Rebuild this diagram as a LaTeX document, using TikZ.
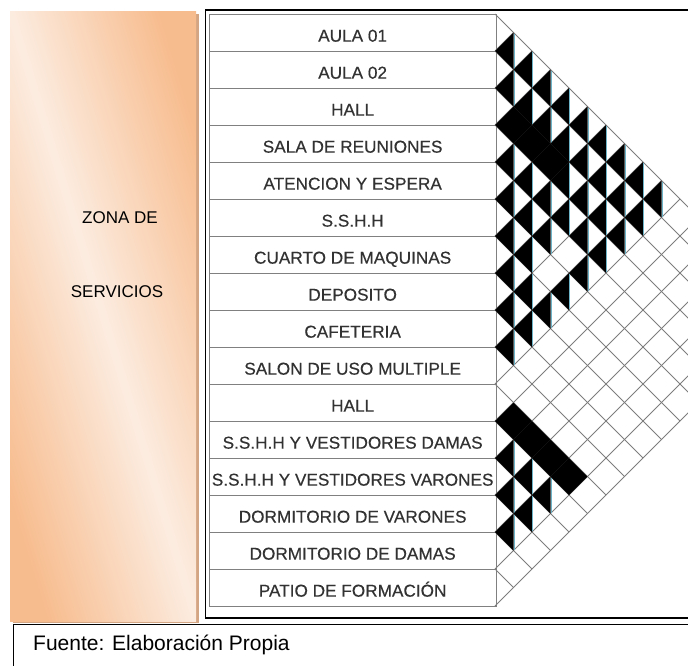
\documentclass[tikz,border=0pt]{standalone}
\usepackage{fontspec}
\setmainfont{Liberation Sans}
\newfontfamily\rowfont[FakeBold=0.4]{Liberation Sans}
\usetikzlibrary{positioning,calc}

\definecolor{zonaorange}{RGB}{247,188,142}
\definecolor{zonalight}{RGB}{252,236,224}
\definecolor{zonashadow}{RGB}{212,165,130}
\definecolor{rowgray}{RGB}{128,128,128}
\definecolor{gridgray}{RGB}{125,125,125}
\definecolor{labelgray}{RGB}{50,50,50}
\definecolor{edgecyan}{RGB}{110,180,200}

\begin{document}
\begin{tikzpicture}[x=1pt,y=-1pt,
    every node/.style={font=\fontsize{16.5}{19}\selectfont,inner sep=0pt},
    rowbox/.style={draw=rowgray,line width=1.3pt,minimum width=287pt,minimum height=37pt,anchor=north west,text=labelgray,
      font=\rowfont\fontsize{17.2}{20}\selectfont,text height=17pt,text depth=0pt},
    zonebox/.style={minimum width=186pt,minimum height=610pt,anchor=north west,top color=zonaorange,bottom color=zonaorange,middle color=zonalight,shading angle=-73},
    zonetext/.style={font=\fontsize{17}{20}\selectfont},
    gridline/.style={draw=gridgray,line width=0.9pt},
    halfcell/.style={fill=black},
    fullcell/.style={fill=black},
    celledge/.style={draw=edgecyan,line width=0.7pt}
  ]
  \useasboundingbox (0,0) rectangle (688,665);
  \clip (0,0) rectangle (688,665);

  % zona box with shadow
  \fill[zonashadow] (13,14) rectangle (199,623);
  \node[zonebox] (zona) at (10,11) {};
  \node[zonetext] (zonaA) at (120,218) {ZONA DE};
  \node[zonetext] (zonaB) at (117,292) {SERVICIOS};

  % outer frame of the table
  \draw[black,line width=1.4pt] (205.5,10) rectangle (720,618);

  % spaces
  \foreach \lbl [count=\k from 0] in {AULA 01,AULA 02,HALL,SALA DE REUNIONES,ATENCION Y ESPERA,S.S.H.H,CUARTO DE MAQUINAS,DEPOSITO,CAFETERIA,SALON DE USO MULTIPLE,HALL,S.S.H.H Y VESTIDORES DAMAS,S.S.H.H Y VESTIDORES VARONES,DORMITORIO DE VARONES,DORMITORIO DE DAMAS,PATIO DE FORMACIÓN}
    \node[rowbox] (r\k) at (208.5,{14+37*\k}) {\lbl};

  % diagonal grid
  \foreach \k in {0,...,16}{
    \draw[gridline] (495,{14+37*\k}) -- ++({(592-37*\k)/2},{(592-37*\k)/2});
    \draw[gridline] (495,{14+37*\k}) -- ++({37*\k/2},{-37*\k/2});
  }

  % relations: left half filled
  \foreach \i/\j in {0/1,0/2,0/3,0/4,0/5,0/6,0/7,0/8,0/9,
                     1/2,1/3,1/4,1/5,1/6,1/7,1/8,1/9,
                     2/6,2/7,2/8,2/9,
                     3/4,3/5,3/6,3/7,3/8,3/9,
                     4/5,4/6,4/7,4/9,
                     5/6,5/7,5/9,
                     6/7,6/8,6/9,
                     7/8,7/9,
                     8/9,
                     11/12,11/13,11/14,12/13,12/14,13/14}{
    \pgfmathsetmacro\cx{495+18.5*(\j-\i)}
    \pgfmathsetmacro\cy{14+18.5*(\i+\j+1)}
    \fill[halfcell] (\cx-18.5,\cy) -- (\cx,\cy-18.5) -- (\cx,\cy+18.5) -- cycle;
    \draw[celledge] (\cx+0.6,\cy-17.5) -- (\cx+0.6,\cy+17.5);
  }
  % relations: whole cell filled
  \foreach \i/\j in {2/3,2/4,2/5,10/11,10/12,10/13,10/14}{
    \pgfmathsetmacro\cx{495+18.5*(\j-\i)}
    \pgfmathsetmacro\cy{14+18.5*(\i+\j+1)}
    \fill[fullcell] (\cx-18.5,\cy) -- (\cx,\cy-18.5) -- (\cx+18.5,\cy) -- (\cx,\cy+18.5) -- cycle;
  }

  % source
  \draw[black,line width=0.8pt] (13.5,700) -- (13.5,624.5) -- (720,624.5);
  \node[anchor=base west,font=\fontsize{21}{24}\selectfont] (fuente) at (33,650) {Fuente: Elaboración Propia};
\end{tikzpicture}
\end{document}
